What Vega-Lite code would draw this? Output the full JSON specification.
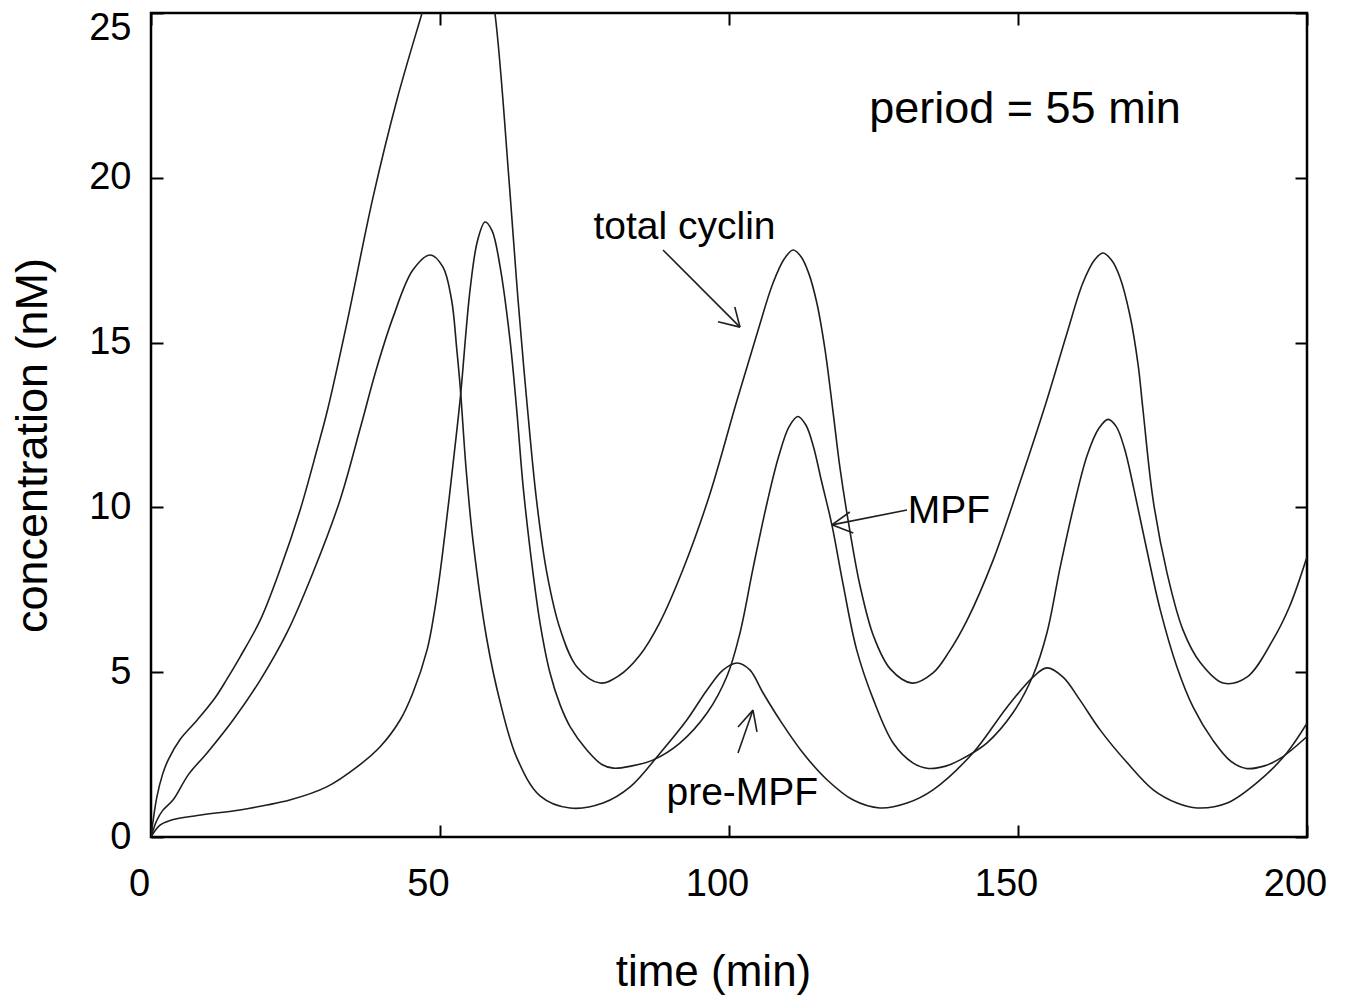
{
  "$schema": "https://vega.github.io/schema/vega-lite/v6.json",
  "width": 1156,
  "height": 824,
  "autosize": {"type": "none"},
  "padding": {"left": 151, "top": 13, "right": 41, "bottom": 165},
  "background": "white",
  "config": {
    "view": {"stroke": "black", "strokeWidth": 2.5},
    "font": "Liberation Sans",
    "axis": {
      "grid": false, "domain": false, "tickColor": "black", "tickWidth": 2, "tickSize": -12,
      "labelFont": "Liberation Sans", "labelFontSize": 38, "labelColor": "black",
      "titleFont": "Liberation Sans", "titleFontSize": 44, "titleColor": "black", "titleFontWeight": "normal"
    }
  },
  "datasets": {
    "curves": [
      {"s":"total cyclin","t":0,"v":0},{"s":"total cyclin","t":1,"v":1.2},{"s":"total cyclin","t":2,"v":1.9},{"s":"total cyclin","t":3,"v":2.35},{"s":"total cyclin","t":5,"v":2.95},{"s":"total cyclin","t":8,"v":3.55},{"s":"total cyclin","t":11,"v":4.2},{"s":"total cyclin","t":13,"v":4.75},{"s":"total cyclin","t":15.4,"v":5.46},{"s":"total cyclin","t":18.9,"v":6.58},{"s":"total cyclin","t":22.3,"v":8.1},{"s":"total cyclin","t":25.8,"v":9.92},{"s":"total cyclin","t":28.7,"v":11.74},{"s":"total cyclin","t":30.6,"v":13.0},{"s":"total cyclin","t":33.9,"v":15.6},{"s":"total cyclin","t":38.4,"v":19.4},{"s":"total cyclin","t":42.6,"v":22.4},{"s":"total cyclin","t":46.9,"v":25},{"s":"total cyclin","t":50,"v":26.8},{"s":"total cyclin","t":52.5,"v":27.8},{"s":"total cyclin","t":55,"v":28.1},{"s":"total cyclin","t":57.5,"v":27.1},{"s":"total cyclin","t":59.5,"v":25},{"s":"total cyclin","t":62,"v":19.8},{"s":"total cyclin","t":63.5,"v":16.3},{"s":"total cyclin","t":65,"v":13.26},{"s":"total cyclin","t":66.7,"v":10.22},{"s":"total cyclin","t":68.5,"v":8.0},{"s":"total cyclin","t":70.8,"v":6.3},{"s":"total cyclin","t":73.7,"v":5.16},{"s":"total cyclin","t":77.7,"v":4.67},{"s":"total cyclin","t":81,"v":4.9},{"s":"total cyclin","t":84.5,"v":5.5},{"s":"total cyclin","t":88,"v":6.5},{"s":"total cyclin","t":92,"v":8.1},{"s":"total cyclin","t":96.5,"v":10.3},{"s":"total cyclin","t":101.4,"v":13.26},{"s":"total cyclin","t":104.9,"v":15.3},{"s":"total cyclin","t":107.6,"v":16.8},{"s":"total cyclin","t":109.6,"v":17.55},{"s":"total cyclin","t":111.1,"v":17.81},{"s":"total cyclin","t":112.5,"v":17.6},{"s":"total cyclin","t":113.8,"v":17.1},{"s":"total cyclin","t":115.2,"v":16.2},{"s":"total cyclin","t":116.6,"v":14.8},{"s":"total cyclin","t":118,"v":12.9},{"s":"total cyclin","t":119.2,"v":11.2},{"s":"total cyclin","t":120.9,"v":9.3},{"s":"total cyclin","t":122.7,"v":7.6},{"s":"total cyclin","t":125,"v":6.1},{"s":"total cyclin","t":127.9,"v":5.1},{"s":"total cyclin","t":131.7,"v":4.67},{"s":"total cyclin","t":135.3,"v":4.98},{"s":"total cyclin","t":138,"v":5.6},{"s":"total cyclin","t":141.2,"v":6.58},{"s":"total cyclin","t":145.7,"v":8.4},{"s":"total cyclin","t":150.3,"v":10.74},{"s":"total cyclin","t":155,"v":13.26},{"s":"total cyclin","t":158.5,"v":15.3},{"s":"total cyclin","t":161.2,"v":16.8},{"s":"total cyclin","t":163.2,"v":17.5},{"s":"total cyclin","t":164.7,"v":17.72},{"s":"total cyclin","t":166.2,"v":17.5},{"s":"total cyclin","t":167.6,"v":17.0},{"s":"total cyclin","t":169.4,"v":15.8},{"s":"total cyclin","t":170.8,"v":14.3},{"s":"total cyclin","t":171.6,"v":13.0},{"s":"total cyclin","t":173.4,"v":10.2},{"s":"total cyclin","t":175.8,"v":8.0},{"s":"total cyclin","t":178.5,"v":6.3},{"s":"total cyclin","t":181.5,"v":5.3},{"s":"total cyclin","t":185.5,"v":4.67},{"s":"total cyclin","t":189.6,"v":4.85},{"s":"total cyclin","t":194.1,"v":5.98},{"s":"total cyclin","t":197,"v":7.0},{"s":"total cyclin","t":200,"v":8.5},

      {"s":"MPF","t":0,"v":0},{"s":"MPF","t":1.5,"v":0.35},{"s":"MPF","t":3.3,"v":0.5},{"s":"MPF","t":8,"v":0.65},{"s":"MPF","t":15.4,"v":0.82},{"s":"MPF","t":20,"v":0.97},{"s":"MPF","t":24,"v":1.12},{"s":"MPF","t":30.4,"v":1.52},{"s":"MPF","t":35.6,"v":2.12},{"s":"MPF","t":39.6,"v":2.73},{"s":"MPF","t":43.1,"v":3.55},{"s":"MPF","t":45.3,"v":4.37},{"s":"MPF","t":47.8,"v":5.7},{"s":"MPF","t":49,"v":6.8},{"s":"MPF","t":50,"v":8.0},{"s":"MPF","t":51.2,"v":9.71},{"s":"MPF","t":52.2,"v":11.23},{"s":"MPF","t":53.5,"v":13.3},{"s":"MPF","t":55.2,"v":16.6},{"s":"MPF","t":56.5,"v":18.1},{"s":"MPF","t":57.8,"v":18.66},{"s":"MPF","t":59,"v":18.4},{"s":"MPF","t":60.4,"v":17.3},{"s":"MPF","t":62.1,"v":15.1},{"s":"MPF","t":63.3,"v":12.9},{"s":"MPF","t":64.4,"v":10.6},{"s":"MPF","t":66.1,"v":8.0},{"s":"MPF","t":67.3,"v":6.5},{"s":"MPF","t":69,"v":5.0},{"s":"MPF","t":70.8,"v":4.0},{"s":"MPF","t":72.5,"v":3.35},{"s":"MPF","t":75.4,"v":2.64},{"s":"MPF","t":78,"v":2.2},{"s":"MPF","t":80,"v":2.09},{"s":"MPF","t":83,"v":2.15},{"s":"MPF","t":86.9,"v":2.34},{"s":"MPF","t":91.5,"v":2.85},{"s":"MPF","t":96.2,"v":3.76},{"s":"MPF","t":99.7,"v":4.9},{"s":"MPF","t":101.9,"v":6.19},{"s":"MPF","t":104.2,"v":8.19},{"s":"MPF","t":106.6,"v":10.15},{"s":"MPF","t":108.6,"v":11.55},{"s":"MPF","t":110.4,"v":12.45},{"s":"MPF","t":111.9,"v":12.76},{"s":"MPF","t":113.3,"v":12.5},{"s":"MPF","t":114.6,"v":11.85},{"s":"MPF","t":116,"v":10.8},{"s":"MPF","t":117.8,"v":9.47},{"s":"MPF","t":119.7,"v":7.7},{"s":"MPF","t":122.1,"v":5.67},{"s":"MPF","t":125,"v":4.16},{"s":"MPF","t":128.4,"v":2.85},{"s":"MPF","t":131.8,"v":2.25},{"s":"MPF","t":134.5,"v":2.08},{"s":"MPF","t":137.5,"v":2.15},{"s":"MPF","t":140,"v":2.34},{"s":"MPF","t":144.6,"v":2.85},{"s":"MPF","t":149.1,"v":3.76},{"s":"MPF","t":152.6,"v":4.9},{"s":"MPF","t":155,"v":6.19},{"s":"MPF","t":157.3,"v":8.19},{"s":"MPF","t":159.8,"v":10.15},{"s":"MPF","t":162,"v":11.6},{"s":"MPF","t":164,"v":12.4},{"s":"MPF","t":165.6,"v":12.67},{"s":"MPF","t":167,"v":12.45},{"s":"MPF","t":168.4,"v":11.8},{"s":"MPF","t":170,"v":10.6},{"s":"MPF","t":172.3,"v":8.7},{"s":"MPF","t":174.6,"v":6.9},{"s":"MPF","t":177.5,"v":5.16},{"s":"MPF","t":180.3,"v":3.94},{"s":"MPF","t":183.7,"v":2.94},{"s":"MPF","t":186.8,"v":2.3},{"s":"MPF","t":189.5,"v":2.08},{"s":"MPF","t":192.5,"v":2.15},{"s":"MPF","t":195.5,"v":2.4},{"s":"MPF","t":200,"v":3.05},

      {"s":"pre-MPF","t":0,"v":0},{"s":"pre-MPF","t":1,"v":0.5},{"s":"pre-MPF","t":2,"v":0.8},{"s":"pre-MPF","t":3.8,"v":1.12},{"s":"pre-MPF","t":6.5,"v":1.9},{"s":"pre-MPF","t":9.7,"v":2.55},{"s":"pre-MPF","t":14.2,"v":3.55},{"s":"pre-MPF","t":18.9,"v":4.76},{"s":"pre-MPF","t":23.5,"v":6.19},{"s":"pre-MPF","t":28,"v":8.01},{"s":"pre-MPF","t":32.7,"v":10.22},{"s":"pre-MPF","t":36.2,"v":12.4},{"s":"pre-MPF","t":39,"v":14.2},{"s":"pre-MPF","t":41.9,"v":15.78},{"s":"pre-MPF","t":45.3,"v":17.2},{"s":"pre-MPF","t":48.3,"v":17.66},{"s":"pre-MPF","t":50.5,"v":17.3},{"s":"pre-MPF","t":52,"v":16.3},{"s":"pre-MPF","t":52.9,"v":14.8},{"s":"pre-MPF","t":53.5,"v":13.65},{"s":"pre-MPF","t":54.5,"v":11.2},{"s":"pre-MPF","t":55.7,"v":9.0},{"s":"pre-MPF","t":58.1,"v":6.0},{"s":"pre-MPF","t":60.4,"v":4.1},{"s":"pre-MPF","t":63.3,"v":2.4},{"s":"pre-MPF","t":67.3,"v":1.25},{"s":"pre-MPF","t":72.5,"v":0.88},{"s":"pre-MPF","t":78.2,"v":1.03},{"s":"pre-MPF","t":82.9,"v":1.52},{"s":"pre-MPF","t":88.1,"v":2.55},{"s":"pre-MPF","t":92.7,"v":3.55},{"s":"pre-MPF","t":96.2,"v":4.46},{"s":"pre-MPF","t":99,"v":5.07},{"s":"pre-MPF","t":101.4,"v":5.28},{"s":"pre-MPF","t":103.6,"v":5.07},{"s":"pre-MPF","t":105.9,"v":4.37},{"s":"pre-MPF","t":108.8,"v":3.55},{"s":"pre-MPF","t":112.8,"v":2.55},{"s":"pre-MPF","t":117,"v":1.73},{"s":"pre-MPF","t":121.5,"v":1.12},{"s":"pre-MPF","t":126.1,"v":0.88},{"s":"pre-MPF","t":130.8,"v":1.03},{"s":"pre-MPF","t":135.3,"v":1.43},{"s":"pre-MPF","t":142.2,"v":2.55},{"s":"pre-MPF","t":148.1,"v":3.94},{"s":"pre-MPF","t":152.6,"v":4.85},{"s":"pre-MPF","t":155,"v":5.13},{"s":"pre-MPF","t":157.8,"v":4.85},{"s":"pre-MPF","t":160.7,"v":4.16},{"s":"pre-MPF","t":164.2,"v":3.25},{"s":"pre-MPF","t":168.9,"v":2.25},{"s":"pre-MPF","t":173.4,"v":1.43},{"s":"pre-MPF","t":177.5,"v":1.03},{"s":"pre-MPF","t":181,"v":0.88},{"s":"pre-MPF","t":186.2,"v":1.03},{"s":"pre-MPF","t":191.9,"v":1.73},{"s":"pre-MPF","t":196.5,"v":2.55},{"s":"pre-MPF","t":200,"v":3.45}
    ],
    "arrows": [
      {"x1":88.58,"y1":17.81,"x2":101.9,"y2":15.47},
      {"x1":101.9,"y1":15.47,"x2":98.1,"y2":15.63},
      {"x1":101.9,"y1":15.47,"x2":101.0,"y2":16.08},
      {"x1":130.8,"y1":9.92,"x2":117.8,"y2":9.47},
      {"x1":117.8,"y1":9.47,"x2":120.9,"y2":9.86},
      {"x1":117.8,"y1":9.47,"x2":121.5,"y2":9.22},
      {"x1":101.56,"y1":2.55,"x2":104.15,"y2":3.85},
      {"x1":104.15,"y1":3.85,"x2":101.56,"y2":3.34},
      {"x1":104.15,"y1":3.85,"x2":104.84,"y2":3.19}
    ],
    "labels": [
      {"x":92.3,"y":18.14,"text":"total cyclin"},
      {"x":138.06,"y":9.53,"text":"MPF"},
      {"x":102.3,"y":0.97,"text":"pre-MPF"}
    ],
    "note": [
      {"x":151.2,"y":21.66,"text":"period = 55 min"}
    ]
  },
  "layer": [
    {
      "data": {"name": "curves"},
      "mark": {"type": "line", "interpolate": "catmull-rom", "clip": true, "stroke": "#1e1e1e", "strokeWidth": 1.6},
      "encoding": {
        "x": {"field": "t", "type": "quantitative", "scale": {"domain": [0, 200], "nice": false},
          "axis": {"orient": "bottom", "values": [0, 50, 100, 150, 200], "title": "time (min)", "labelPadding": 40, "labelOffset": -12, "labelFlush": false,
            "titleX": 562, "titleY": 148, "titleBaseline": "alphabetic", "titleAlign": "center", "titleAnchor": null}},
        "y": {"field": "v", "type": "quantitative", "scale": {"domain": [0, 25], "nice": false},
          "axis": {"orient": "left", "values": [0, 5, 10, 15, 20, 25], "title": "concentration (nM)", "labelPadding": 32, "labelFlush": false,
            "labelBaseline": {"condition": {"test": "datum.value == 25", "value": "top"}, "value": "middle"},
            "labelOffset": {"condition": {"test": "datum.value == 25", "value": -4}, "value": 0},
            "titleFontSize": 45,
            "titleX": -119, "titleY": 432, "titleBaseline": "middle", "titleAlign": "center", "titleAnchor": null, "titleAngle": -90}},
        "detail": {"field": "s"}
      }
    },
    {
      "data": {"name": "arrows"},
      "mark": {"type": "rule", "stroke": "#1e1e1e", "strokeWidth": 1.6},
      "encoding": {
        "x": {"field": "x1", "type": "quantitative", "axis": {"orient": "top", "values": [0, 50, 100, 150, 200], "labels": false, "title": null}},
        "y": {"field": "y1", "type": "quantitative", "axis": {"orient": "right", "values": [0, 5, 10, 15, 20, 25], "labels": false, "title": null}},
        "x2": {"field": "x2"},
        "y2": {"field": "y2"}
      }
    },
    {
      "data": {"name": "labels"},
      "mark": {"type": "text", "font": "Liberation Sans", "fontSize": 39, "align": "center", "baseline": "alphabetic", "color": "black"},
      "encoding": {
        "x": {"field": "x", "type": "quantitative", "axis": null},
        "y": {"field": "y", "type": "quantitative", "axis": null},
        "text": {"field": "text"}
      }
    },
    {
      "data": {"name": "note"},
      "mark": {"type": "text", "font": "Liberation Sans", "fontSize": 45, "align": "center", "baseline": "alphabetic", "color": "black"},
      "encoding": {
        "x": {"field": "x", "type": "quantitative", "axis": null},
        "y": {"field": "y", "type": "quantitative", "axis": null},
        "text": {"field": "text"}
      }
    }
  ],
  "resolve": {"axis": {"x": "independent", "y": "independent"}}
}
